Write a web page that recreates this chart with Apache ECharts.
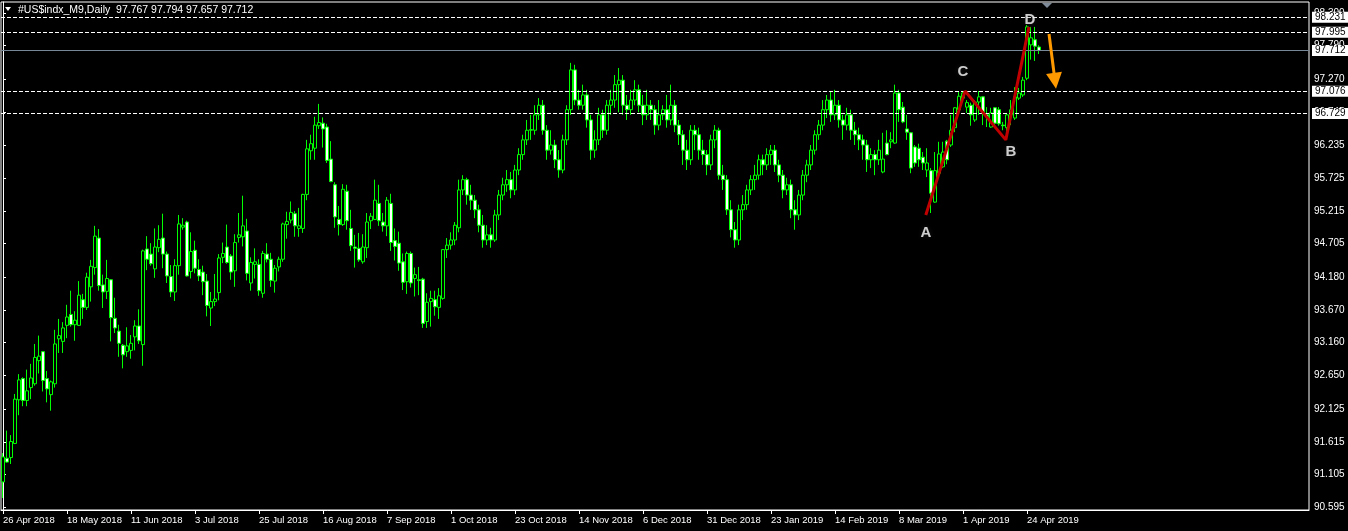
<!DOCTYPE html>
<html><head><meta charset="utf-8">
<script src="https://cdn.jsdelivr.net/npm/echarts@6/dist/echarts.min.js"></script>
<style>html,body{margin:0;padding:0;background:#000;}#c{width:1348px;height:531px;}</style>
</head><body><div id="c"></div><script>
// ---- data ----
const startDate = '2018-04-26';
const holidays = ['2018-12-25', '2019-01-01', '2019-04-19'];
const barCount = 260;
const totalSlots = 327;
const opens  = [90.99,91.36,91.37,91.59,92.27,92.60,92.26,92.46,92.52,92.88,93.02,92.60,92.35,92.52,93.22,93.18,93.43,93.60,93.44,93.43,
93.83,93.71,94.03,94.33,94.79,94.06,93.96,94.14,93.54,93.34,93.12,93.02,93.04,93.25,93.42,93.13,94.62,94.54,94.31,94.64,
94.79,94.54,94.19,93.95,94.36,94.96,95.04,94.27,94.60,94.30,94.26,94.12,93.70,93.80,93.94,94.49,94.65,94.51,94.28,94.80,
94.81,94.90,94.09,94.38,94.38,93.93,94.54,94.46,94.12,94.34,94.46,95.00,95.07,95.17,94.94,94.94,95.47,96.15,96.19,96.54,
96.58,96.52,96.02,95.62,95.08,95.00,95.52,94.94,94.65,94.63,94.42,94.64,95.06,95.08,95.33,95.04,94.98,95.33,94.75,94.71,
94.42,94.11,94.55,94.16,94.14,94.15,93.49,93.80,93.83,93.71,93.85,
94.61,94.68,94.76,94.95,95.54,95.70,95.46,95.38,95.23,94.99,94.76,94.84,94.76,95.15,95.46,95.62,95.70,95.54,95.85,96.09,
96.32,96.47,96.47,96.71,96.86,96.47,96.16,96.24,96.01,95.85,96.32,96.79,97.41,96.94,96.86,97.02,96.63,96.16,96.32,96.71,
96.47,96.86,96.94,97.18,97.25,96.86,96.79,96.94,97.10,96.86,96.71,96.86,96.79,96.55,96.71,96.79,96.63,96.86,96.55,96.40,
96.16,96.01,96.47,96.40,96.16,96.09,95.93,96.32,96.47,95.77,95.70,95.23,94.92,94.76,95.23,95.31,95.54,95.70,95.77,96.01,
95.93,96.09,96.16,95.93,95.77,95.54,95.62,95.23,95.15,95.46,95.77,95.93,96.16,96.40,96.55,96.79,96.94,96.71,96.86,96.63,
96.55,96.71,96.47,96.40,96.32,96.24,96.01,96.09,96.01,
95.82,96.27,96.29,96.27,97.05,96.83,96.49,96.43,96.21,96.19,96.05,95.85,95.84,95.35,95.80,95.90,96.30,96.24,96.51,96.79,
96.97,96.83,96.86,96.63,96.91,96.99,96.71,96.52,96.82,96.79,96.55,96.51,96.71,96.66,96.97,97.02,97.28,97.80,97.88,97.767];
const highs  = [91.44,91.79,91.72,92.36,92.67,92.62,92.74,92.83,93.14,93.27,93.03,92.72,92.57,93.36,93.53,93.48,93.75,93.97,93.65,94.12,
93.92,94.25,94.45,94.98,94.93,94.22,94.45,94.15,93.86,93.44,93.14,93.40,93.28,93.51,93.68,94.61,94.82,94.71,94.94,94.99,
95.17,94.58,94.37,94.46,95.15,95.10,95.06,94.88,94.75,94.46,94.36,94.23,93.95,94.23,94.54,94.72,95.00,94.54,94.85,95.18,
95.45,95.09,94.49,94.63,94.46,94.59,94.71,94.56,94.37,94.50,95.03,95.20,95.36,95.21,95.26,95.48,96.32,96.40,96.68,96.88,
96.67,96.57,96.30,95.66,95.29,95.63,95.62,95.23,94.84,94.87,94.85,95.18,95.18,95.70,95.62,95.18,95.43,95.48,94.94,94.89,
94.55,94.58,94.58,94.33,94.34,94.17,93.93,93.97,93.97,94.01,94.62,
94.79,94.88,95.04,95.70,95.77,95.73,95.62,95.46,95.31,95.15,94.99,94.95,95.23,95.54,95.73,95.85,95.82,95.93,96.19,96.40,
96.63,96.71,96.86,96.97,96.94,96.55,96.47,96.32,96.16,96.40,96.86,97.52,97.49,97.10,97.18,97.10,96.71,96.47,96.82,96.79,
96.94,97.10,97.33,97.44,97.33,97.02,97.10,97.25,97.18,97.02,97.10,96.94,96.86,96.94,96.86,97.02,97.18,96.94,96.63,96.47,
96.32,96.55,96.55,96.51,96.32,96.16,96.40,96.55,96.51,95.93,95.77,95.38,95.04,95.31,95.46,95.62,95.77,95.93,96.09,96.09,
96.19,96.24,96.24,96.01,95.85,95.73,95.70,95.38,95.54,95.85,96.01,96.24,96.47,96.63,96.94,97.02,97.07,97.10,96.94,96.71,
96.82,96.79,96.60,96.51,96.40,96.32,96.19,96.16,96.32,
96.43,96.47,96.44,97.18,97.10,96.91,96.71,96.44,96.24,96.26,96.13,96.19,95.88,96.13,96.29,96.29,96.32,96.71,96.83,97.07,
97.08,96.94,96.90,96.94,97.08,97.00,96.83,96.82,96.83,96.83,96.60,96.74,96.94,97.14,97.13,97.30,98.11,98.08,98.08,97.794];
const lows   = [90.74,91.29,91.27,91.58,92.03,92.17,92.17,92.28,92.49,92.68,92.40,92.23,92.10,92.46,93.00,93.00,93.23,93.41,93.19,93.42,
93.53,93.67,93.80,94.22,93.97,93.70,93.84,93.18,93.31,92.94,92.76,92.94,92.91,93.04,93.14,92.80,94.29,94.36,94.17,94.57,
94.32,94.09,93.87,93.81,94.22,94.92,94.19,94.16,94.24,94.12,93.90,93.57,93.42,93.73,93.82,94.40,94.39,94.14,94.03,94.72,
94.66,94.13,93.97,94.16,93.89,93.86,94.41,94.03,93.94,94.27,94.42,94.78,95.02,94.81,94.81,94.87,95.38,96.01,96.01,96.49,
96.20,95.96,95.66,94.95,94.83,94.98,94.92,94.59,94.33,94.42,94.39,94.48,94.93,95.07,94.98,94.89,94.82,94.59,94.44,94.28,
93.98,93.92,94.02,93.88,93.90,93.39,93.39,93.41,93.58,93.53,93.83,
94.48,94.61,94.68,94.88,95.46,95.31,95.23,95.10,94.88,94.64,94.68,94.64,94.73,95.07,95.38,95.51,95.41,95.46,95.77,96.01,
96.24,96.32,96.40,96.63,96.40,96.01,96.09,95.88,95.73,95.80,96.24,96.71,96.86,96.79,96.79,96.51,96.01,96.04,96.24,96.35,
96.40,96.71,96.82,96.75,96.71,96.63,96.71,96.86,96.75,96.55,96.63,96.63,96.40,96.47,96.63,96.51,96.55,96.44,96.24,95.93,
95.85,95.93,96.16,96.01,95.93,95.77,95.85,96.19,95.70,95.54,95.15,94.80,94.64,94.68,95.07,95.23,95.46,95.54,95.70,95.77,
95.85,95.93,95.82,95.66,95.41,95.46,95.10,94.92,95.07,95.38,95.66,95.85,96.09,96.32,96.47,96.66,96.60,96.63,96.51,96.32,
96.47,96.32,96.24,96.16,96.01,95.82,95.88,95.77,95.93,
95.80,96.08,96.19,96.26,96.60,96.58,96.32,95.80,95.90,95.90,95.85,95.74,95.18,95.34,95.77,95.88,95.94,96.21,96.44,96.71,
96.91,96.74,96.54,96.60,96.71,96.55,96.52,96.51,96.52,96.54,96.47,96.44,96.55,96.63,96.94,96.99,97.25,97.57,97.55,97.657];
const closes = [91.38,91.30,91.62,92.28,92.58,92.26,92.41,92.61,92.93,92.95,92.57,92.44,92.55,93.14,93.27,93.39,93.56,93.44,93.51,93.90,
93.71,94.18,94.35,94.82,94.05,93.95,94.16,93.55,93.39,93.15,92.97,93.11,93.15,93.42,93.19,94.59,94.46,94.39,94.65,94.77,
94.54,94.20,93.95,94.36,95.01,94.99,94.20,94.58,94.32,94.20,94.11,93.74,93.80,93.84,94.48,94.55,94.41,94.26,94.72,94.84,
94.98,94.24,94.41,94.42,93.97,94.55,94.46,94.13,94.32,94.46,95.01,95.05,95.19,94.98,94.98,95.47,96.18,96.26,96.55,96.59,
96.49,96.00,95.67,95.12,95.00,95.55,95.06,94.67,94.63,94.45,94.65,95.04,95.13,95.38,95.06,94.98,95.38,94.72,94.66,94.40,
94.10,94.55,94.09,94.22,94.13,93.46,93.79,93.85,93.72,93.89,94.61,
94.68,94.76,94.99,95.54,95.70,95.46,95.38,95.23,94.99,94.76,94.84,94.76,95.15,95.46,95.62,95.70,95.54,95.85,96.09,96.32,
96.47,96.48,96.71,96.86,96.47,96.16,96.24,96.01,95.85,96.32,96.79,97.41,96.94,96.86,97.02,96.63,96.16,96.32,96.71,96.47,
96.86,96.94,97.18,97.25,96.86,96.79,96.94,97.10,96.86,96.71,96.86,96.79,96.55,96.71,96.79,96.63,96.86,96.55,96.40,96.16,
96.01,96.47,96.40,96.16,96.09,95.93,96.32,96.47,95.77,95.70,95.23,94.92,94.76,95.23,95.31,95.54,95.70,95.77,96.01,95.93,
96.09,96.16,95.93,95.77,95.54,95.62,95.23,95.15,95.46,95.77,95.93,96.16,96.40,96.55,96.79,96.94,96.71,96.86,96.63,96.55,
96.71,96.47,96.40,96.32,96.24,96.01,96.09,96.01,96.16,
96.02,96.09,96.32,97.05,96.79,96.60,96.44,95.88,95.96,96.01,95.96,95.96,95.49,95.84,96.10,96.13,96.01,96.47,96.82,97.00,
97.05,96.90,96.71,96.91,96.99,96.74,96.68,96.74,96.58,96.57,96.54,96.71,96.79,96.99,97.05,97.25,98.08,97.91,97.78,97.712];
const yTickValues = [90.595,91.105,91.615,92.125,92.650,93.160,93.670,94.180,94.705,95.215,95.725,96.235,96.745,97.270,97.790,98.300];
const levelLines = [98.231, 97.995, 97.076, 96.729];
const bidLine = 97.712;
const titleText = '#US$indx_M9,Daily  97.767 97.794 97.657 97.712';
const patternNames = ['A', 'C', 'B', 'D'];
const patternIdx   = [230.7, 240.5, 250.7, 256.5];
const patternPrice = [95.15, 97.08, 96.32, 98.08];
const arrowFrom = [261.5, 97.97];
const arrowTo   = [263.0, 97.24];
const labelEvery = 16;

// ---- build categories (trading days) ----
const monthNames = ['Jan','Feb','Mar','Apr','May','Jun','Jul','Aug','Sep','Oct','Nov','Dec'];
const categories = [];
const catLabels = [];
(function(){
  let d = new Date(startDate + 'T00:00:00Z');
  while (categories.length < barCount) {
    const wd = d.getUTCDay();
    const iso = d.toISOString().slice(0,10);
    if (wd !== 0 && wd !== 6 && holidays.indexOf(iso) < 0) {
      categories.push(iso);
      catLabels.push(d.getUTCDate() + ' ' + monthNames[d.getUTCMonth()] + ' ' + d.getUTCFullYear());
    }
    d = new Date(d.getTime() + 86400000);
  }
  for (let i = barCount; i < totalSlots; i++) { categories.push('slot' + i); catLabels.push(''); }
})();

const candleData = opens.map((o, i) => [o, closes[i], lows[i], highs[i]]);
const showIdx = (i) => i % labelEvery === 0 && i < barCount;

const labelOffsets = { A: [0, 18], C: [-2, -19], B: [5, 12], D: [1, -7] };

const chart = echarts.init(document.getElementById('c'), null, { renderer: 'canvas' });
const FONT = 'Liberation Sans';
chart.setOption({
  backgroundColor: '#000',
  animation: false,
  title: {
    text: titleText, left: 13, top: 0,
    textStyle: { color: '#fff', fontSize: 10.5, fontWeight: 'normal', fontFamily: FONT }
  },
  graphic: [
    { type: 'polygon', shape: { points: [[5, 7], [11, 7], [8, 11]] }, style: { fill: '#fff' } },
    { type: 'polygon', shape: { points: [[1042, 3], [1052, 3], [1047, 8]] }, style: { fill: '#7f8a99' } }
  ],
  grid: { left: 1, right: 39, top: 2, bottom: 21, show: true, borderColor: '#fff', borderWidth: 1, backgroundColor: '#000' },
  xAxis: [
    {
      type: 'category', data: categories, boundaryGap: true,
      axisLine: { lineStyle: { color: '#fff' } },
      axisTick: { show: true, alignWithLabel: true, interval: (i) => showIdx(i), length: 4, lineStyle: { color: '#fff' } },
      axisLabel: {
        interval: (i) => showIdx(i), color: '#fff', fontSize: 9.5, fontFamily: FONT, align: 'left', margin: 5,
        formatter: (v, i) => catLabels[i]
      },
      splitLine: { show: false }
    },
    { type: 'value', min: -0.5, max: totalSlots - 0.5, show: false }
  ],
  yAxis: {
    type: 'value', position: 'right', min: 90.553, max: 98.468, scale: true,
    axisLine: { show: true, lineStyle: { color: '#fff' } },
    axisTick: { show: true, length: 3, customValues: yTickValues, lineStyle: { color: '#fff' } },
    axisLabel: { customValues: yTickValues, color: '#fff', fontSize: 10, fontFamily: FONT, margin: 5,
      formatter: (v) => v.toFixed(3) },
    splitLine: { show: false }
  },
  series: [
    {
      type: 'candlestick', data: candleData, barWidth: 3,
      itemStyle: { color: '#000', color0: '#fff', borderColor: '#00ff00', borderColor0: '#00ff00', borderWidth: 1 },
      markLine: {
        silent: true, symbol: 'none', animation: false, precision: 3,
        label: { position: 'end', distance: 3, color: '#000', backgroundColor: '#fff', fontSize: 10, fontFamily: FONT,
          padding: [1, 3, 0, 3], formatter: (p) => p.name },
        data: levelLines.map(v => ({ yAxis: v, name: v.toFixed(3), lineStyle: { color: '#fff', type: [4, 2], width: 1 } }))
          .concat([{ yAxis: bidLine, name: bidLine.toFixed(3), lineStyle: { color: '#778899', type: 'solid', width: 1 } }])
      }
    },
    {
      type: 'line', xAxisIndex: 1, yAxisIndex: 0, symbol: 'none',
      data: patternIdx.map((x, i) => [x, patternPrice[i]]),
      lineStyle: { color: '#c00000', width: 3 }, z: 5
    },
    {
      type: 'scatter', xAxisIndex: 1, yAxisIndex: 0, symbolSize: 0, z: 6,
      data: patternIdx.map((x, i) => ({
        value: [x, patternPrice[i]],
        label: { show: true, position: 'inside', formatter: patternNames[i], offset: labelOffsets[patternNames[i]],
          color: '#fff', fontSize: 15, fontWeight: 'bold', fontFamily: 'Liberation Sans',
          textShadowColor: 'rgba(50,50,50,0.7)', textShadowBlur: 5 }
      }))
    },
    {
      type: 'line', xAxisIndex: 1, yAxisIndex: 0, symbol: 'none', data: [], z: 5,
      markLine: {
        silent: true, animation: false, symbol: ['none', 'triangle'], symbolSize: [16, 16],
        lineStyle: { color: '#ff9900', width: 3, type: 'solid' },
        label: { show: false },
        data: [[{ coord: arrowFrom }, { coord: arrowTo }]]
      }
    }
  ]
});
</script></body></html>
